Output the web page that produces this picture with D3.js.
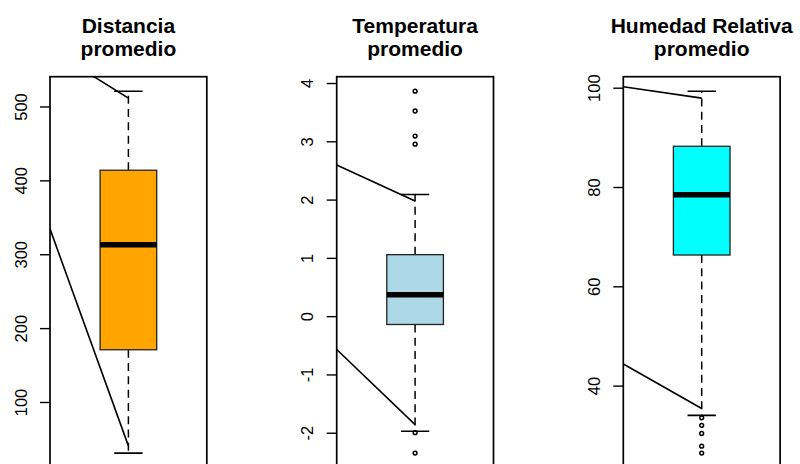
<!DOCTYPE html>
<html>
<head>
<meta charset="utf-8">
<script src="https://cdn.jsdelivr.net/npm/d3@7"></script>
<style>
  html, body { margin: 0; padding: 0; background: #fff; }
  svg { display: block; font-family: "Liberation Sans", Arial, sans-serif; }
</style>
</head>
<body>
<svg id="chart" width="800" height="464"></svg>
<script>
// ---- Data ----
const titles = [
  ["Distancia", "promedio"],
  ["Temperatura", "promedio"],
  ["Humedad Relativa", "promedio"]
];
const fills = ["#FFA500", "#ADD8E6", "#00FFFF"];

// [lower whisker, Q1, median, Q3, upper whisker]
const statsDistancia   = [30.8, 170.7, 313, 413.7, 520.7];
const statsTemperatura = [-1.976, -0.143, 0.368, 1.055, 2.086];
const statsHumedad     = [34.0, 66.3, 78.45, 88.2, 99.3];

const outDistancia   = [];
const outTemperatura = [3.86, 3.52, 3.09, 2.95, -2.0, -2.35];
const outHumedad     = [33.5, 32.0, 30.35, 27.8, 26.4];

const ticksDistancia   = [100, 200, 300, 400, 500];
const ticksTemperatura = [-2, -1, 0, 1, 2, 3, 4];
const ticksHumedad     = [40, 60, 80, 100];

// annotation segments [x1, y1, x2, y2] in data units
const segDistancia   = [[0.46, 577.5, 1, 511.2], [0.46, 334.3, 1, 40.6]];
const segTemperatura = [[0.46, 2.595, 1, 1.976], [0.46, -0.572, 1, -1.86]];
const segHumedad     = [[0.46, 100.2, 1, 97.9], [0.46, 44.35, 1, 35.4]];

const panels = [
  { title: titles[0], fill: fills[0], stats: statsDistancia, out: outDistancia, ticks: ticksDistancia, seg: segDistancia },
  { title: titles[1], fill: fills[1], stats: statsTemperatura, out: outTemperatura, ticks: ticksTemperatura, seg: segTemperatura },
  { title: titles[2], fill: fills[2], stats: statsHumedad, out: outHumedad, ticks: ticksHumedad, seg: segHumedad }
];

// ---- Layout ----
const svg = d3.select("#chart");
const panelLefts = [50, 336.7, 623.3];
const panelWidth = 156.8;
const plotTop = 76.7, plotBottom = 467.6;
const boxWex = 0.39;

panels.forEach((p, i) => {
  const left = panelLefts[i], right = left + panelWidth;
  const x = d3.scaleLinear().domain([0.46, 1.54]).range([left, right]);
  const all = p.stats.concat(p.out);
  const [mn, mx] = d3.extent(all);
  const pad = (mx - mn) * 0.04;
  const y = d3.scaleLinear().domain([mn - pad, mx + pad]).range([plotBottom, plotTop]);

  const g = svg.append("g");
  const clipId = "clip" + i;
  svg.append("clipPath").attr("id", clipId)
    .append("rect").attr("x", left).attr("y", plotTop).attr("width", panelWidth).attr("height", plotBottom - plotTop);

  const inner = g.append("g").attr("clip-path", `url(#${clipId})`);
  const [lw, q1, med, q3, uw] = p.stats;
  const cx = x(1);
  const hw = x(1 + boxWex / 2) - cx;

  // whiskers (dashed)
  inner.append("line").attr("x1", cx).attr("x2", cx).attr("y1", y(q1)).attr("y2", y(lw))
    .attr("stroke", "#000").attr("stroke-width", 1.5).attr("stroke-dasharray", "8,5.3");
  inner.append("line").attr("x1", cx).attr("x2", cx).attr("y1", y(q3)).attr("y2", y(uw))
    .attr("stroke", "#000").attr("stroke-width", 1.5).attr("stroke-dasharray", "8,5.3");
  // staples
  [lw, uw].forEach(v => {
    inner.append("line").attr("x1", cx - hw / 2).attr("x2", cx + hw / 2)
      .attr("y1", y(v)).attr("y2", y(v)).attr("stroke", "#000").attr("stroke-width", 1.6);
  });
  // box
  inner.append("rect").attr("x", cx - hw).attr("width", 2 * hw)
    .attr("y", y(q3)).attr("height", y(q1) - y(q3))
    .attr("fill", p.fill).attr("stroke", "#222").attr("stroke-width", 1.3);
  // median
  inner.append("line").attr("x1", cx - hw).attr("x2", cx + hw)
    .attr("y1", y(med)).attr("y2", y(med)).attr("stroke", "#000").attr("stroke-width", 5.5);
  // outliers
  inner.selectAll("circle.o").data(p.out).enter().append("circle")
    .attr("cx", cx).attr("cy", d => y(d)).attr("r", 1.9)
    .attr("fill", "none").attr("stroke", "#000").attr("stroke-width", 1.5);
  // annotation segments
  inner.selectAll("line.s").data(p.seg).enter().append("line")
    .attr("x1", d => x(d[0])).attr("y1", d => y(d[1]))
    .attr("x2", d => x(d[2])).attr("y2", d => y(d[3]))
    .attr("stroke", "#000").attr("stroke-width", 1.6);

  // frame (bottom edge lies beyond the picture)
  g.append("rect").attr("x", left).attr("y", plotTop).attr("width", panelWidth).attr("height", plotBottom - plotTop)
    .attr("fill", "none").attr("stroke", "#000").attr("stroke-width", 1.7);

  // y axis
  const axis = d3.axisLeft(y).tickValues(p.ticks).tickSize(10).tickFormat(d => String(d).replace("−", "-"));
  const ag = g.append("g").attr("transform", `translate(${left},0)`).call(axis);
  ag.select(".domain").remove();
  ag.selectAll(".tick line").attr("stroke", "#000").attr("stroke-width", 1.4);
  ag.selectAll(".tick text")
    .attr("x", null).attr("dy", null)
    .attr("transform", "translate(-23.3,0) rotate(-90)")
    .attr("text-anchor", "middle")
    .attr("font-size", 16.5)
    .attr("font-family", "Liberation Sans, Arial, sans-serif")
    .attr("fill", "#000");

  // title
  const tx = (left + right) / 2;
  const t = svg.append("text").attr("x", tx).attr("text-anchor", "middle")
    .attr("font-size", 21).attr("font-weight", "bold").attr("fill", "#000");
  p.title.forEach((line, k) => {
    t.append("tspan").attr("x", tx).attr("y", 32.7 + k * 22.8).text(line);
  });
});
</script>
</body>
</html>
